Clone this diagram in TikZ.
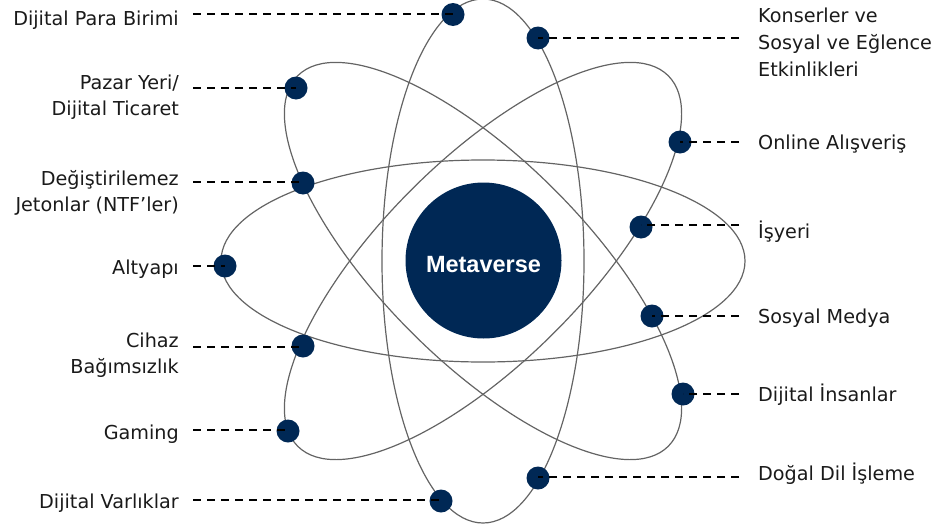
\documentclass[tikz,border=0pt]{standalone}
\usepackage{fontspec}
\setmainfont{DejaVu Sans}
\newfontfamily\hubfont{Liberation Sans}
\definecolor{navy}{RGB}{0,40,85}
\definecolor{orbitgray}{RGB}{100,100,100}
\definecolor{txt}{RGB}{26,26,26}
\begin{document}
\begin{tikzpicture}[x=1pt,y=-1pt,
  orbit/.style={draw=orbitgray, line width=1.2pt},
  dot/.style={circle, fill=navy, minimum size=23pt, inner sep=0pt},
  leader/.style={draw=black, line width=1.5pt, dash pattern=on 8pt off 6pt},
  lbl/.style={font=\fontsize{19.2}{26.5}\selectfont, text=txt, inner sep=0pt},
  hub/.style={circle, fill=navy, minimum size=156pt, inner sep=0pt},
  hubtext/.style={font=\hubfont\bfseries\fontsize{23.5}{28}\selectfont, text=white, inner sep=0pt}]
\useasboundingbox (0,0) rectangle (939,530);

% orbits
\foreach \a in {0,45,90,135}
  \draw[orbit, rotate around={\a:(483,261)}] (483,261) ellipse [x radius=262, y radius=101];

% hub
\node[hub] (hub) at (483.5,260.5) {};
\node[hubtext, anchor=base] (hubl) at (483.5,272) {Metaverse};

% dots
\node[dot] (d1) at (453,14.5) {};
\node[dot] (d2) at (296,88) {};
\node[dot] (d3) at (303,183) {};
\node[dot] (d4) at (225,266) {};
\node[dot] (d5) at (303,346) {};
\node[dot] (d6) at (288,431) {};
\node[dot] (d7) at (441,501) {};
\node[dot] (d8) at (538,38) {};
\node[dot] (d9) at (680,142) {};
\node[dot] (d10) at (641,227) {};
\node[dot] (d11) at (652,316) {};
\node[dot] (d12) at (683,394) {};
\node[dot] (d13) at (538,478) {};

% leader ends
\coordinate (s1) at (193,14);
\coordinate (s2) at (193,88);
\coordinate (s3) at (193,182);
\coordinate (s4) at (193,266);
\coordinate (s5) at (193,347);
\coordinate (s6) at (193,430);
\coordinate (s7) at (193,500);
\coordinate (s8) at (739,38);
\coordinate (s9) at (739,142);
\coordinate (s10) at (739,225);
\coordinate (s11) at (739,316);
\coordinate (s12) at (739,394);
\coordinate (s13) at (739,477);

\foreach \i in {1,...,13}
  \draw[leader] (s\i) -- (s\i -| d\i);

% labels left
\node[lbl, anchor=base east] (l1) at (179,25) {Dijital Para Birimi};
\node[lbl, anchor=base east] (l2) at (179,89) {\begin{tabular}[t]{@{}r@{}}Pazar Yeri/\\Dijital Ticaret\end{tabular}};
\node[lbl, anchor=base east] (l3) at (179,185) {\begin{tabular}[t]{@{}r@{}}Değiştirilemez\\Jetonlar (NTF’ler)\end{tabular}};
\node[lbl, anchor=base east] (l4) at (179,274) {Altyapı};
\node[lbl, anchor=base east] (l5) at (179,347) {\begin{tabular}[t]{@{}r@{}}Cihaz\\Bağımsızlık\end{tabular}};
\node[lbl, anchor=base east] (l6) at (179,439) {Gaming};
\node[lbl, anchor=base east] (l7) at (179,508) {Dijital Varlıklar};

% labels right
\node[lbl, anchor=base west] (l8) at (758,23) {\begin{tabular}[t]{@{}l@{}}Konserler ve\\Sosyal ve Eğlence\\Etkinlikleri\end{tabular}};
\node[lbl, anchor=base west] (l9) at (758,149) {Online Alışveriş};
\node[lbl, anchor=base west] (l10) at (758,238) {İşyeri};
\node[lbl, anchor=base west] (l11) at (758,323) {Sosyal Medya};
\node[lbl, anchor=base west] (l12) at (758,401) {Dijital İnsanlar};
\node[lbl, anchor=base west] (l13) at (758,480) {Doğal Dil İşleme};
\end{tikzpicture}
\end{document}
